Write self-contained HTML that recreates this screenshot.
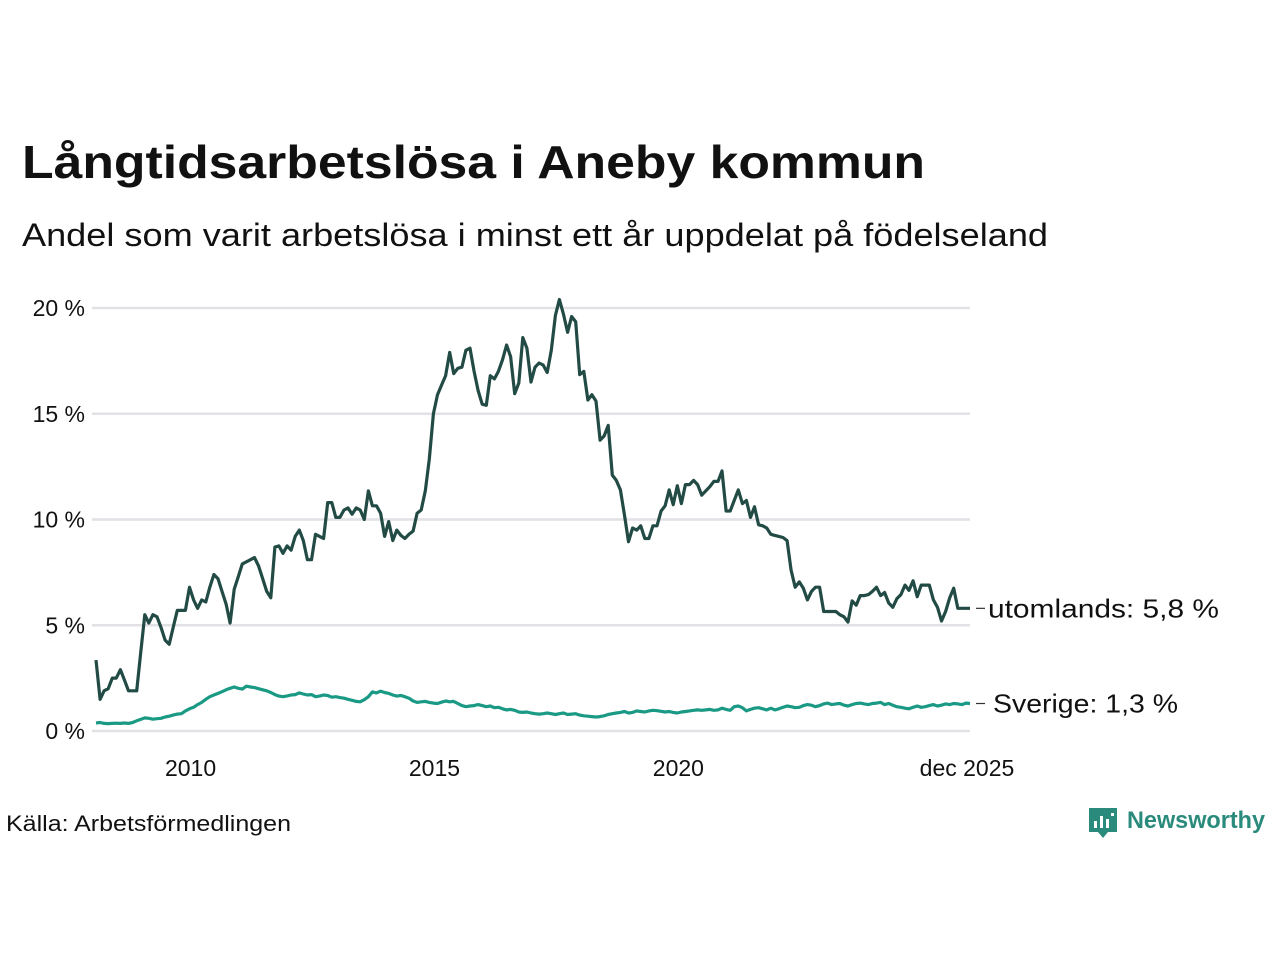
<!DOCTYPE html>
<html><head><meta charset="utf-8"><style>
html,body{margin:0;padding:0;background:#fff;}
svg{display:block;font-family:"Liberation Sans",sans-serif;}
</style></head><body>
<svg id="chart" width="1280" height="960" viewBox="0 0 1280 960">
<text x="22" y="178" font-size="46" font-weight="bold" fill="#111" textLength="903" lengthAdjust="spacingAndGlyphs">Långtidsarbetslösa i Aneby kommun</text>
<text x="22" y="246" font-size="32" fill="#111" textLength="1026" lengthAdjust="spacingAndGlyphs">Andel som varit arbetslösa i minst ett år uppdelat på födelseland</text>
<g id="grid"></g>
<g id="yticks"></g>
<g id="xticks"></g>
<g id="lines"></g>
<text x="6" y="831" font-size="22" fill="#111" textLength="285" lengthAdjust="spacingAndGlyphs">Källa: Arbetsförmedlingen</text>
<g>
<path d="M1089 808 h28 v24 h-9 l-5 6 l-5 -6 h-9 z" fill="#2a8b7d"/>
<rect x="1094" y="821" width="3" height="7" fill="#fff"/><rect x="1100" y="816" width="3" height="12" fill="#fff"/><rect x="1106" y="819" width="3" height="9" fill="#fff"/><rect x="1111" y="813" width="3" height="3" fill="#fff"/>
<text x="1127" y="828" font-size="24" fill="#2a8b7d" font-weight="bold" textLength="138" lengthAdjust="spacingAndGlyphs">Newsworthy</text>
</g>
</svg>
<script>
const yTicks=[0,5,10,15,20];
const yTickLabels=["0 %","5 %","10 %","15 %","20 %"];
const xTicks=[24,84,144,215];
const xTickLabels=["2010","2015","2020","dec 2025"];
const seriesNames=["utomlands","Sverige"];
const endLabels=["utomlands: 5,8 %","Sverige: 1,3 %"];
const utomlands=[3.35,1.5,1.9,2.0,2.5,2.5,2.9,2.4,1.9,1.9,1.9,3.7,5.5,5.1,5.5,5.4,4.9,4.3,4.1,4.9,5.7,5.7,5.7,6.8,6.2,5.8,6.2,6.1,6.8,7.4,7.2,6.6,6.0,5.1,6.7,7.3,7.9,8.0,8.1,8.2,7.8,7.2,6.6,6.3,8.7,8.75,8.4,8.75,8.55,9.2,9.5,9.0,8.1,8.1,9.3,9.2,9.1,10.8,10.8,10.1,10.1,10.45,10.55,10.25,10.55,10.45,10.0,11.35,10.65,10.65,10.3,9.2,9.9,9.0,9.5,9.25,9.1,9.3,9.45,10.3,10.45,11.35,12.85,15.0,15.9,16.35,16.8,17.9,16.9,17.15,17.2,18.0,18.1,17.0,16.1,15.45,15.4,16.8,16.65,17.0,17.55,18.25,17.7,15.95,16.45,18.6,18.1,16.5,17.2,17.4,17.3,16.95,18.0,19.65,20.4,19.7,18.85,19.6,19.35,16.85,17.0,15.65,15.9,15.6,13.75,13.95,14.45,12.1,11.85,11.4,10.2,8.95,9.6,9.5,9.7,9.1,9.1,9.7,9.7,10.4,10.65,11.4,10.7,11.6,10.75,11.65,11.65,11.85,11.65,11.15,11.35,11.55,11.8,11.8,12.3,10.4,10.4,10.9,11.4,10.75,10.9,10.1,10.6,9.75,9.7,9.6,9.3,9.25,9.2,9.15,9.0,7.6,6.8,7.05,6.75,6.2,6.6,6.8,6.8,5.65,5.65,5.65,5.65,5.5,5.4,5.15,6.15,5.95,6.4,6.4,6.45,6.6,6.8,6.4,6.55,6.05,5.85,6.25,6.45,6.9,6.65,7.1,6.35,6.9,6.9,6.9,6.2,5.85,5.2,5.65,6.3,6.75,5.8,5.8,5.8,5.8];
const sverige=[.38,.40,.36,.35,.36,.37,.36,.38,.36,.40,.48,.55,.62,.60,.56,.58,.60,.66,.70,.75,.80,.82,.95,1.05,1.12,1.25,1.35,1.50,1.62,1.70,1.78,1.86,1.95,2.02,2.08,2.02,1.98,2.12,2.08,2.05,2.00,1.95,1.90,1.82,1.72,1.65,1.62,1.66,1.70,1.72,1.80,1.75,1.70,1.72,1.62,1.65,1.70,1.68,1.60,1.62,1.58,1.55,1.50,1.45,1.40,1.38,1.48,1.62,1.85,1.80,1.88,1.82,1.78,1.70,1.65,1.68,1.62,1.55,1.42,1.35,1.38,1.40,1.35,1.32,1.30,1.36,1.42,1.38,1.40,1.30,1.20,1.15,1.18,1.20,1.25,1.20,1.15,1.18,1.10,1.12,1.05,1.00,1.02,0.98,0.90,0.88,0.90,0.85,0.82,0.80,0.82,0.85,0.82,0.78,0.82,0.85,0.78,0.80,0.82,0.75,0.72,0.70,0.68,0.66,0.68,0.72,0.78,0.82,0.85,0.88,0.92,0.85,0.88,0.95,0.92,0.90,0.95,0.98,0.96,0.93,0.90,0.92,0.88,0.85,0.90,0.92,0.95,0.98,1.00,0.98,1.00,1.02,0.98,1.00,1.08,1.02,0.98,1.15,1.18,1.10,0.95,1.02,1.08,1.10,1.05,1.00,1.08,1.00,1.05,1.12,1.18,1.15,1.10,1.12,1.20,1.25,1.22,1.15,1.20,1.28,1.32,1.25,1.28,1.30,1.22,1.18,1.25,1.30,1.32,1.28,1.25,1.30,1.32,1.35,1.25,1.30,1.22,1.15,1.12,1.08,1.05,1.12,1.18,1.12,1.15,1.20,1.25,1.18,1.22,1.28,1.25,1.30,1.28,1.25,1.32,1.30];

const NS="http://www.w3.org/2000/svg";
const x0=96,x1=970,y0=731,y20=308;
function xs(i){return x0+(x1-x0)*i/215;}
function ys(v){return y0+(y20-y0)*v/20;}
function mk(tag,attrs,parent){const e=document.createElementNS(NS,tag);for(const k in attrs)e.setAttribute(k,attrs[k]);parent.appendChild(e);return e;}
const grid=document.getElementById('grid'),yt=document.getElementById('yticks'),xt=document.getElementById('xticks'),lines=document.getElementById('lines');
yTicks.forEach((v,i)=>{
  const l=mk('line',{x1:92,x2:970,y1:ys(v),y2:ys(v),stroke:'#e1e1e6','stroke-width':2.5},grid);
  
  
  const t=mk('text',{x:85,y:ys(v)+8,'font-size':23,fill:'#111','text-anchor':'end'},yt);
  t.textContent=yTickLabels[i];
  
  
});
xTicks.forEach((m,i)=>{
  const t=mk('text',{x:xs(m)-3,y:776,'font-size':23,fill:'#111','text-anchor':'middle'},xt);
  t.textContent=xTickLabels[i];
  
  
});
function drawLine(vals,color,name){
  const d=vals.map((v,i)=>(i?'L':'M')+xs(i).toFixed(1)+' '+ys(v).toFixed(1)).join(' ');
  const p=mk('path',{d:d,fill:'none',stroke:color,'stroke-width':3.2,'stroke-linejoin':'round'},lines);
  
  
}
drawLine(sverige,'#1a9985','line-sverige');
drawLine(utomlands,'#234b45','line-utomlands');
const labelLens=[231,185];
[[utomlands,988,0],[sverige,993,1]].forEach(([vals,tx,k])=>{
  const yy=ys(vals[vals.length-1]);
  mk('line',{x1:976,x2:985,y1:yy,y2:yy,stroke:'#333','stroke-width':1.2},lines);
  const t=mk('text',{x:tx,y:yy+9,'font-size':26,fill:'#111',textLength:labelLens[k],lengthAdjust:'spacingAndGlyphs'},lines);
  t.textContent=endLabels[k];
  
  
});
</script>
</body></html>
